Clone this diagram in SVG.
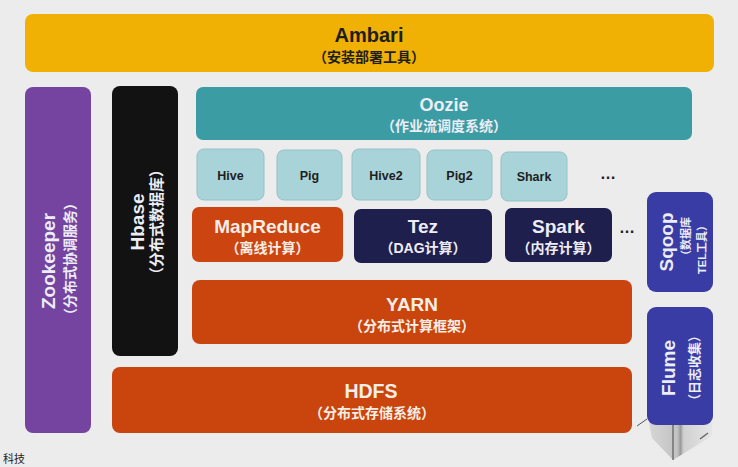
<svg xmlns="http://www.w3.org/2000/svg" width="738" height="467" viewBox="0 0 738 467">
<defs>
<style>
text{font-family:"Liberation Sans","Noto Sans CJK SC",sans-serif;font-weight:bold;text-anchor:middle}
.t{font-size:19px}
.s{font-size:14px}
.lt{fill:#f6eee6}
.wt{fill:#ecedf5}
.dk{fill:#1e1e1e}
.small{font-size:12.5px}
.hive rect{fill:#a8d3d8;stroke:#93c2c7;stroke-width:1}
</style>
<linearGradient id="stand" x1="0" y1="0" x2="1" y2="0">
<stop offset="0" stop-color="#d6d6d6"/>
<stop offset="0.45" stop-color="#c2c2c2"/>
<stop offset="0.5" stop-color="#9a9a9a"/>
<stop offset="0.55" stop-color="#d0d0d0"/>
<stop offset="1" stop-color="#e6e6e6"/>
</linearGradient>
</defs>
<rect x="0" y="0" width="738" height="467" fill="#ececec"/>

<g id="ambari">
<rect x="25" y="14" width="689" height="58" rx="8" fill="#f0b104"/>
<text class="t dk" x="369" y="42" style="font-size:20px">Ambari</text>
<text class="s dk" x="369" y="62">（安装部署工具）</text>
</g>

<g id="zookeeper">
<rect x="25" y="87" width="66" height="346" rx="8" fill="#7444a0"/>
<text class="t wt" transform="translate(55,261) rotate(-90)">Zookeeper</text>
<text class="s wt" transform="translate(75,259) rotate(-90)">（分布式协调服务）</text>
</g>

<g id="hbase">
<rect x="112" y="86" width="66" height="270" rx="8" fill="#121212"/>
<text class="t wt" transform="translate(144,222) rotate(-90)">Hbase</text>
<text class="wt" style="font-size:15px" transform="translate(162,222) rotate(-90)">（分布式数据库）</text>
</g>

<g id="oozie">
<rect x="196" y="87" width="496" height="53" rx="7" fill="#3b9ca4"/>
<text class="wt" x="444" y="111" style="font-size:18px">Oozie</text>
<text class="s wt" x="444" y="131">（作业流调度系统）</text>
</g>

<g id="hive" class="hive">
<rect x="197" y="149" width="67" height="51" rx="7"/>
<text class="small dk" x="230.5" y="180">Hive</text>
</g>
<g id="pig" class="hive">
<rect x="277" y="150" width="65" height="50" rx="7"/>
<text class="small dk" x="309.5" y="180">Pig</text>
</g>
<g id="hive2" class="hive">
<rect x="352" y="149" width="68" height="51" rx="7"/>
<text class="small dk" x="386" y="180">Hive2</text>
</g>
<g id="pig2" class="hive">
<rect x="427" y="150" width="65" height="50" rx="7"/>
<text class="small dk" x="459.5" y="180">Pig2</text>
</g>
<g id="shark" class="hive">
<rect x="501" y="152" width="66" height="49" rx="7"/>
<text class="small dk" x="534" y="181">Shark</text>
</g>
<g id="more1">
<text class="dk" x="608" y="179" style="font-size:16px">…</text>
</g>

<g id="mapreduce">
<rect x="192" y="207" width="151" height="55" rx="7" fill="#cc4410"/>
<text class="t lt" x="267.5" y="233">MapReduce</text>
<text class="s lt" x="267.5" y="253">（离线计算）</text>
</g>
<g id="tez">
<rect x="354" y="209" width="138" height="54" rx="7" fill="#1f1f4e"/>
<text class="t wt" x="423" y="233">Tez</text>
<text class="s wt" x="423" y="253">（DAG计算）</text>
</g>
<g id="spark">
<rect x="505" y="208" width="107" height="54" rx="7" fill="#1f1f4e"/>
<text class="t wt" x="558.5" y="233">Spark</text>
<text class="s wt" x="558.5" y="253">（内存计算）</text>
</g>
<g id="more2">
<text class="dk" x="627" y="233" style="font-size:16px">…</text>
</g>

<g id="sqoop">
<rect x="647" y="192" width="66" height="100" rx="9" fill="#3a3ca6"/>
<text class="t wt" transform="translate(673,242) rotate(-90)">Sqoop</text>
<text class="wt" style="font-size:11px" transform="translate(690,239) rotate(-90)">（数据库</text>
<text class="wt" style="font-size:11px" transform="translate(706,247) rotate(-90)">TEL工具）</text>
</g>

<g id="yarn">
<rect x="192" y="280" width="440" height="64" rx="8" fill="#c9450d"/>
<text class="t lt" x="412" y="311">YARN</text>
<text class="s lt" x="412" y="331">（分布式计算框架）</text>
</g>

<g id="hdfs">
<rect x="112" y="367" width="520" height="66" rx="8" fill="#c9450d"/>
<text class="t lt" x="371" y="398" style="font-size:19.5px">HDFS</text>
<text class="s lt" x="372" y="418">（分布式存储系统）</text>
</g>

<g id="flume-stand">
<polygon points="649,423 712,423 712,436 673,460 652,438" fill="url(#stand)"/>
<line x1="673" y1="424" x2="673" y2="460" stroke="#444" stroke-width="1"/>
<line x1="637" y1="426" x2="647" y2="419" stroke="#555" stroke-width="1"/>
<line x1="700" y1="439" x2="708" y2="433" stroke="#666" stroke-width="1.5"/>
</g>
<g id="flume">
<rect x="647" y="307" width="66" height="118" rx="9" fill="#3a3ca6"/>
<text class="t wt" transform="translate(675,368) rotate(-90)">Flume</text>
<text class="wt" style="font-size:13px" transform="translate(699,368) rotate(-90)">（日志收集）</text>
</g>

<text x="14" y="463" style="font-size:11px;font-weight:normal;fill:#222">科技</text>
</svg>
